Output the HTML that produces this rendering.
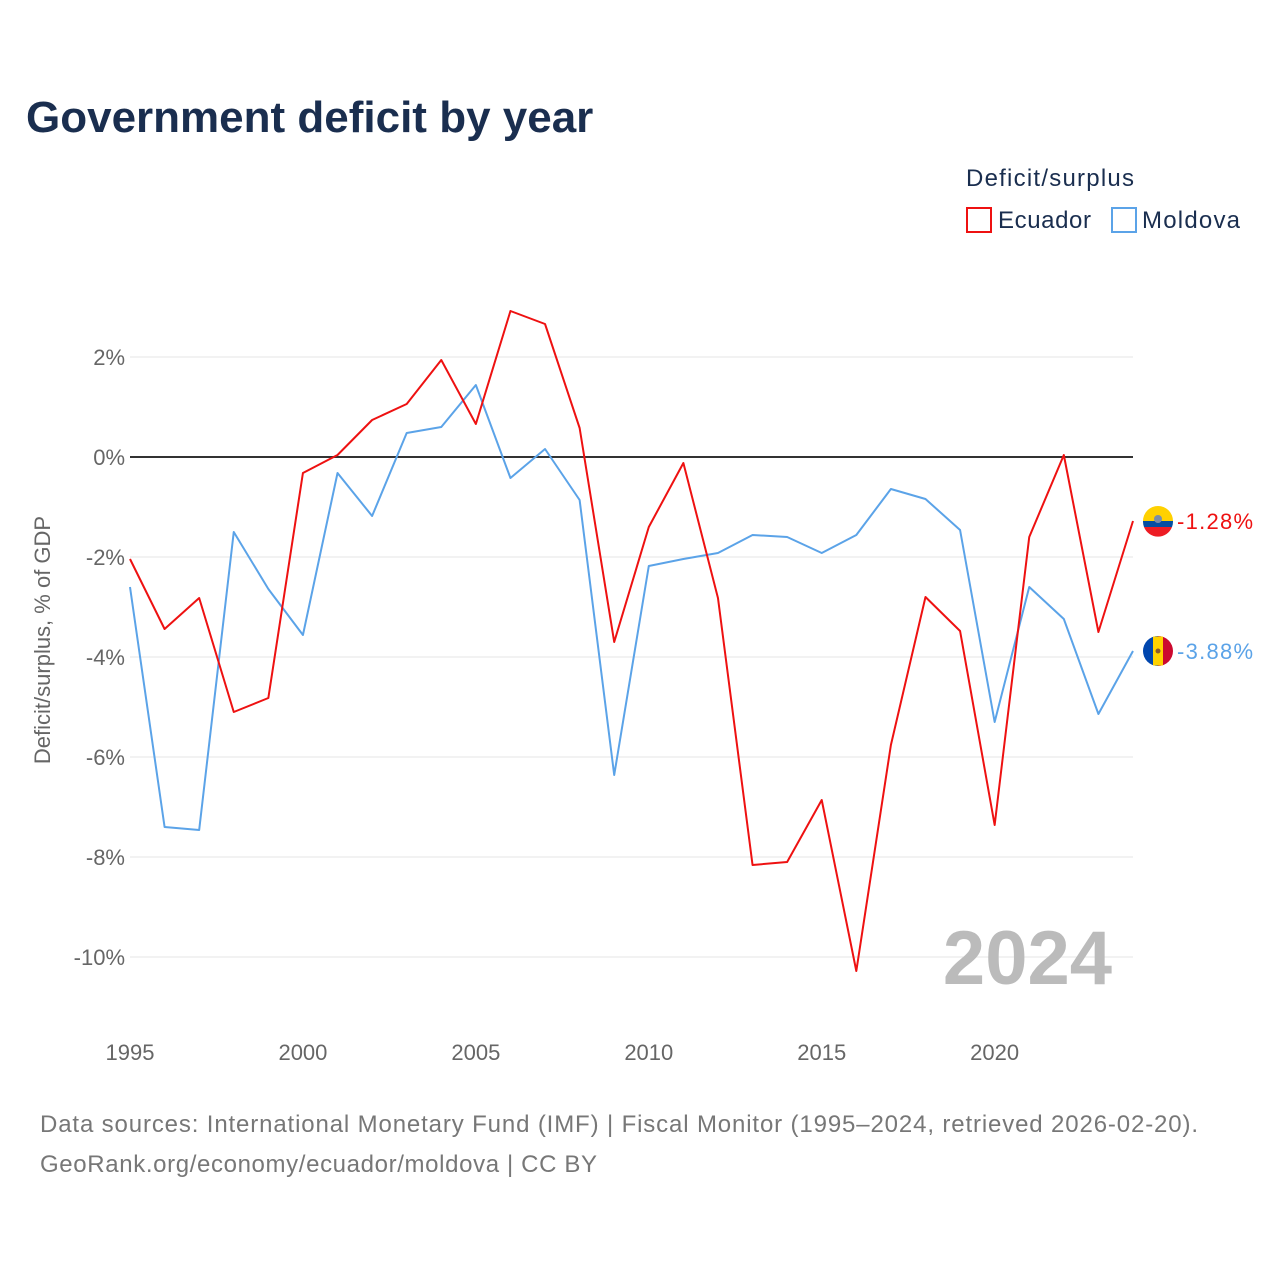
<!DOCTYPE html>
<html><head><meta charset="utf-8">
<style>
body{margin:0;background:#fff;font-family:"Liberation Sans",sans-serif;}
svg text{font-family:"Liberation Sans",sans-serif;}
</style></head>
<body>
<svg width="1280" height="1280" viewBox="0 0 1280 1280" xmlns="http://www.w3.org/2000/svg">
<rect width="1280" height="1280" fill="#fff"/>
<text x="26" y="132" font-size="44" font-weight="bold" fill="#1a2e4f">Government deficit by year</text>
<text x="966" y="186" font-size="24" fill="#1a2e4f" textLength="168">Deficit/surplus</text>
<g><rect x="967" y="208" width="24" height="24" fill="none" stroke="#ee1111" stroke-width="2"/><text x="998" y="228" font-size="24" fill="#1a2e4f" textLength="93">Ecuador</text></g>
<g><rect x="1112" y="208" width="24" height="24" fill="none" stroke="#5ba3e8" stroke-width="2"/><text x="1142" y="228" font-size="24" fill="#1a2e4f" textLength="98">Moldova</text></g>
<g id="grid"></g>
<g id="yt"></g>
<g id="xt"></g>
<text transform="translate(50,640) rotate(-90)" text-anchor="middle" font-size="22" fill="#666">Deficit/surplus, % of GDP</text>
<text x="1112" y="984" text-anchor="end" font-size="76" font-weight="bold" fill="#bbb">2024</text>
<g id="series"></g>
<text x="40" y="1132" font-size="24" fill="#777" textLength="1158">Data sources: International Monetary Fund (IMF) | Fiscal Monitor (1995–2024, retrieved 2026-02-20).</text>
<text x="40" y="1172" font-size="24" fill="#777" textLength="557">GeoRank.org/economy/ecuador/moldova | CC BY</text>
</svg>
<script>
const years=[1995,1996,1997,1998,1999,2000,2001,2002,2003,2004,2005,2006,2007,2008,2009,2010,2011,2012,2013,2014,2015,2016,2017,2018,2019,2020,2021,2022,2023,2024];
const ecuador=[-2.04,-3.44,-2.82,-5.1,-4.82,-0.32,0.04,0.74,1.06,1.94,0.66,2.92,2.66,0.58,-3.7,-1.4,-0.12,-2.82,-8.16,-8.1,-6.86,-10.28,-5.76,-2.8,-3.48,-7.36,-1.6,0.04,-3.5,-1.28];
const moldova=[-2.6,-7.4,-7.46,-1.5,-2.64,-3.56,-0.32,-1.18,0.48,0.6,1.44,-0.42,0.16,-0.86,-6.36,-2.18,-2.04,-1.92,-1.56,-1.6,-1.92,-1.56,-0.64,-0.84,-1.46,-5.3,-2.6,-3.24,-5.14,-3.88];
const yTicks=[2,0,-2,-4,-6,-8,-10];
const xTicks=[1995,2000,2005,2010,2015,2020];
const NS="http://www.w3.org/2000/svg";
const X=y=>130+(y-1995)*(1133-130)/29;
const Y=v=>457-v*50;
function mk(t,a,p){const e=document.createElementNS(NS,t);for(const k in a)e.setAttribute(k,a[k]);p.appendChild(e);return e;}
const grid=document.getElementById('grid'),yt=document.getElementById('yt'),xt=document.getElementById('xt'),ser=document.getElementById('series');
yTicks.forEach(v=>{
 const l=mk('line',{x1:130,x2:1133,y1:Y(v),y2:Y(v),stroke:v===0?'#333':'#e6e6e6','stroke-width':v===0?2:1},grid);
 
 
 const t=mk('text',{x:125,y:Y(v)+8,'text-anchor':'end','font-size':22,fill:'#666'},yt);
 t.textContent=v+'%';
 
 
});
xTicks.forEach(y=>{
 const t=mk('text',{x:X(y),y:1060,'text-anchor':'middle','font-size':22,fill:'#666'},xt);
 t.textContent=y;
 
 
});
function line(vals,col,name,label,flag){
 const p=mk('polyline',{points:vals.map((v,i)=>X(years[i])+','+Y(v)).join(' '),fill:'none',stroke:col,'stroke-width':2,'stroke-linejoin':'round'},ser);
 
 
 const last=vals[vals.length-1],cy=Y(last);
 const g=mk('g',{},ser);
 
 
 if(flag==='ec'){
  mk('path',{d:`M1143 ${cy} a15 15 0 0 1 30 0 z`,fill:'#ffd100'},g);
  mk('path',{d:`M1143 ${cy} h30 a15 15 0 0 1 -1 6 h-28 a15 15 0 0 1 -1 -6z`,fill:'#034ea2'},g);
  mk('path',{d:`M1144 ${cy+6} h28 a15 15 0 0 1 -28 0z`,fill:'#ed1c24'},g);
  mk('circle',{cx:1158,cy:cy-2,r:4,fill:'#7a8da8'},g);
 }else{
  mk('path',{d:`M1158 ${cy-15} a15 15 0 0 0 0 30 z`,fill:'#0046ae'},g);
  mk('path',{d:`M1158 ${cy-15} a15 15 0 0 1 0 30 z`,fill:'#cc092f'},g);
  mk('rect',{x:1153,y:cy-14.5,width:10,height:29,fill:'#ffd200'},g);
  mk('circle',{cx:1158,cy:cy,r:2.5,fill:'#8a5a2a'},g);
 }
 const t=mk('text',{x:1177,y:cy+8,'font-size':22,fill:col,textLength:76},ser);
 t.textContent=label;
 
 
}
line(moldova,'#5ba3e8','moldova',moldova[moldova.length-1].toFixed(2)+'%','md');
line(ecuador,'#ee1111','ecuador',ecuador[ecuador.length-1].toFixed(2)+'%','ec');
</script>
</body></html>
